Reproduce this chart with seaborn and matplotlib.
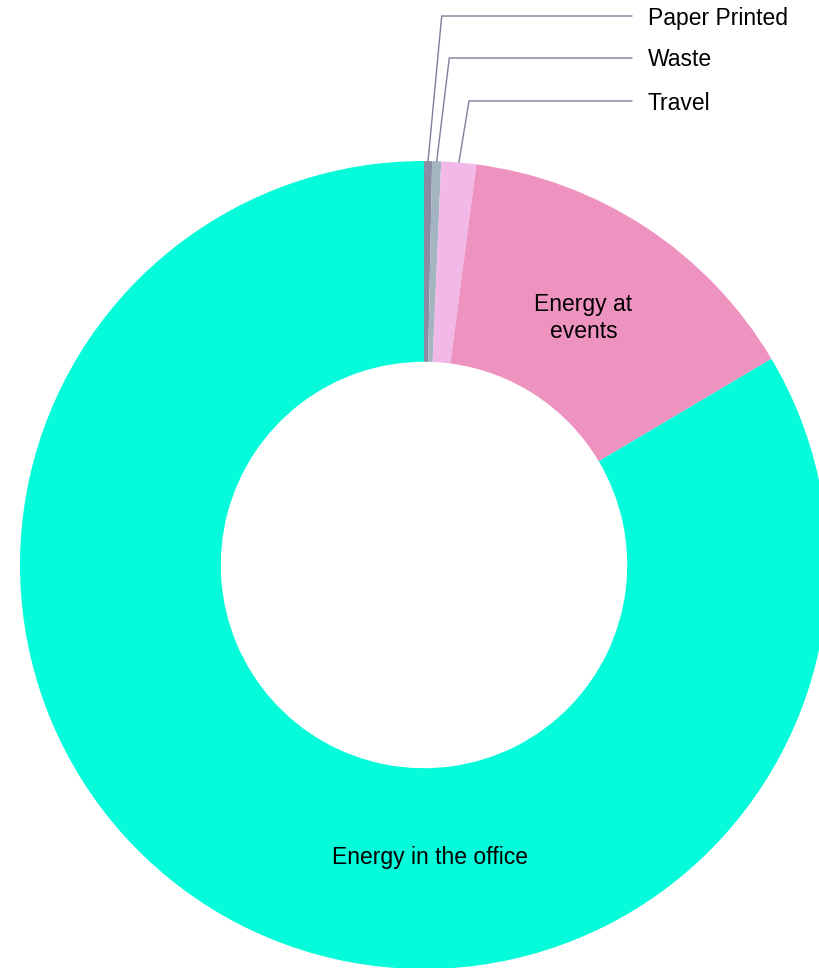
import numpy as np
import matplotlib
matplotlib.use("Agg")
import matplotlib.pyplot as plt
import seaborn as sns

categories = ["Paper Printed", "Waste", "Travel", "Energy at events", "Energy in the office"]
values = [0.32, 0.36, 1.39, 14.4, 83.5]
colors = ["#8b8ba3", "#a3b5c0", "#f2b8e8", "#ee93bf", "#05fbd9"]

sns.set_theme(style="white")
plt.rcParams['font.family'] = ['Liberation Sans', 'DejaVu Sans']

W, H = 819, 968
cx, cy, R = 424, 565, 404
fig = plt.figure(figsize=(W / 100, H / 100), dpi=100)
ax = fig.add_axes([0, 0, 1, 1])

wedges, _ = ax.pie(values, colors=colors, startangle=90, counterclock=False,
                   radius=1.0, wedgeprops=dict(width=0.497, linewidth=0))
ax.set_aspect('auto')
ax.set_xlim(-cx / R, (W - cx) / R)
ax.set_ylim(-(H - cy) / R, cy / R)
ax.axis('off')

total = sum(values)
cum = np.cumsum([0] + values)
mid = [(cum[i] + cum[i + 1]) / 2 / total * 2 * np.pi for i in range(len(values))]

fs = 16.5
# inside labels
r_in = 0.725
a = mid[3]
ax.text(r_in * np.sin(a) - 0.004, r_in * np.cos(a) + 0.006, "Energy at\nevents", ha='center', va='center',
        fontsize=fs, color='black', linespacing=1.25)
ax.text(0.015, -0.723, "Energy in the office", ha='center', va='center', fontsize=fs, color='black')

# outside labels with elbow leader lines
line_color = "#7f7f9c"
elbow_px = [(441.7, 16), (449.3, 58), (469, 101)]
label_x_px = 648
line_end_px = 632
for i, (ex, ey) in zip(range(3), elbow_px):
    a = mid[i]
    sx, sy = np.sin(a) * 1.0, np.cos(a) * 1.0
    exd, eyd = (ex - cx) / R, (cy - ey) / R
    endd = (line_end_px - cx) / R
    ax.plot([sx, exd, endd], [sy, eyd, eyd], color=line_color, lw=1.0, solid_joinstyle='miter')
    ax.text((label_x_px - cx) / R, (cy - ey - 2) / R, categories[i], ha='left', va='center',
            fontsize=fs, color='black')

fig.savefig("out.png", dpi=100)
